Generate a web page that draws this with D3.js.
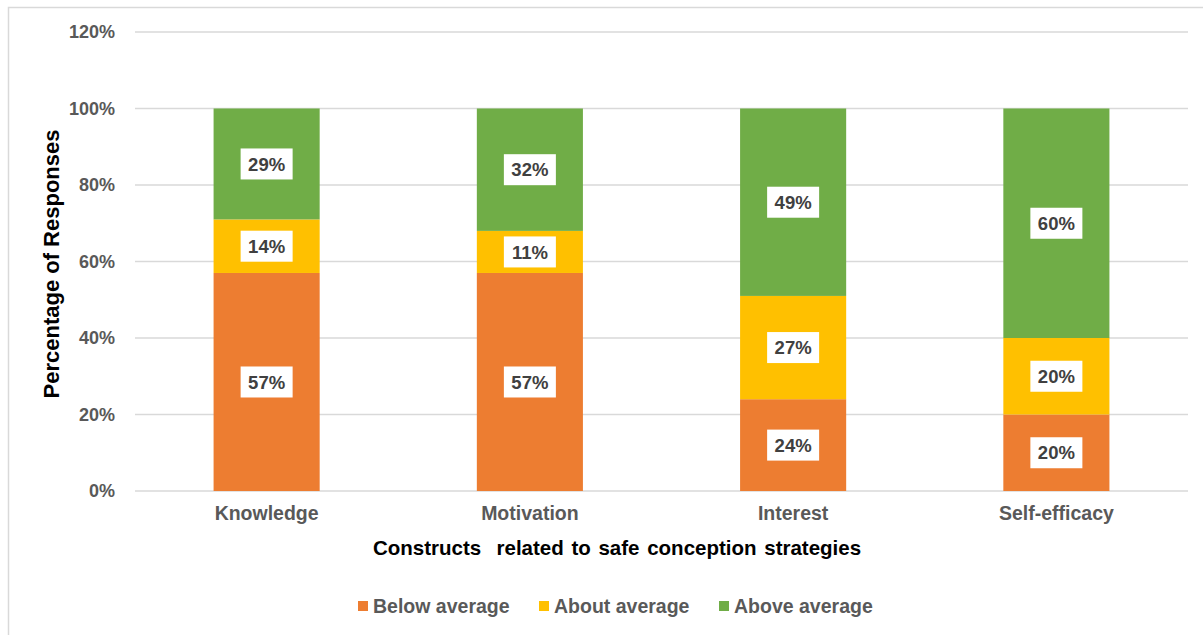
<!DOCTYPE html>
<html>
<head>
<meta charset="utf-8">
<script src="https://cdn.jsdelivr.net/npm/d3@7"></script>
<style>
  body { margin: 0; background: #fff; }
  svg text { font-family: "Liberation Sans", Arial, sans-serif; }
</style>
</head>
<body>
<div id="chart"></div>
<script>
// data
const categories = ["Knowledge", "Motivation", "Interest", "Self-efficacy"];
const seriesNames = ["Below average", "About average", "Above average"];
const belowAverage = [57, 57, 24, 20];
const aboutAverage = [14, 11, 27, 20];
const aboveAverage = [29, 32, 49, 60];
const yTicks = [0, 20, 40, 60, 80, 100, 120];
const colors = ["#ED7D31", "#FFC000", "#70AD47"];

const W = 1203, H = 635;
const margin = { top: 32, right: 15, bottom: 144, left: 135 },
    width = W - margin.left - margin.right,
    height = H - margin.top - margin.bottom;

const svg = d3.select("#chart")
    .append("svg")
    .attr("width", W)
    .attr("height", H);

// outer chart border (clipped on the right/bottom like the picture)
svg.append("rect")
    .attr("x", 8.5).attr("y", 7.5)
    .attr("width", W).attr("height", H)
    .attr("fill", "none")
    .attr("stroke", "#d9d9d9")
    .attr("stroke-width", 1.5);

const g = svg.append("g")
    .attr("transform", `translate(${margin.left}, ${margin.top})`);

const x = d3.scaleBand()
    .domain(categories)
    .range([0, width])
    .paddingInner(0.597)
    .paddingOuter(0.2985);

const y = d3.scaleLinear()
    .domain([0, 120])
    .range([height, 0]);

// gridlines
g.append("g")
    .selectAll("line")
    .data(yTicks)
    .enter()
    .append("line")
    .attr("x1", 0).attr("x2", width)
    .attr("y1", d => y(d)).attr("y2", d => y(d))
    .attr("stroke", "#d9d9d9")
    .attr("stroke-width", 1.3);

// y axis labels
const yAxis = g.append("g")
    .call(d3.axisLeft(y).tickValues(yTicks).tickFormat(d => d + "%").tickSize(0).tickPadding(20));
yAxis.select(".domain").remove();
yAxis.selectAll("text")
    .attr("font-size", 18)
    .attr("font-weight", "bold")
    .attr("fill", "#595959")
    .attr("font-family", "Liberation Sans, Arial, sans-serif");

// x axis labels
const xAxis = g.append("g")
    .attr("transform", `translate(0, ${height})`)
    .call(d3.axisBottom(x).tickSize(0).tickPadding(15));
xAxis.select(".domain").remove();
xAxis.selectAll("text")
    .attr("font-size", 19.5)
    .attr("font-weight", "bold")
    .attr("fill", "#595959")
    .attr("font-family", "Liberation Sans, Arial, sans-serif");

// stack
const table = categories.map((c, i) => ({
    cat: c,
    "Below average": belowAverage[i],
    "About average": aboutAverage[i],
    "Above average": aboveAverage[i]
}));
const stacked = d3.stack().keys(seriesNames)(table);

const layers = g.selectAll(".layer")
    .data(stacked)
    .enter()
    .append("g")
    .attr("fill", (d, i) => colors[i]);

layers.selectAll("rect")
    .data(d => d)
    .enter()
    .append("rect")
    .attr("x", d => x(d.data.cat))
    .attr("y", d => y(d[1]))
    .attr("width", x.bandwidth())
    .attr("height", d => y(d[0]) - y(d[1]));

// data labels with white boxes
const labels = layers.selectAll(".lbl")
    .data(d => d)
    .enter()
    .append("g")
    .attr("transform", d => `translate(${x(d.data.cat) + x.bandwidth() / 2}, ${y((d[0] + d[1]) / 2)})`);

labels.append("rect")
    .attr("x", -26).attr("y", -15.5)
    .attr("width", 52).attr("height", 31)
    .attr("fill", "#fff");

labels.append("text")
    .attr("text-anchor", "middle")
    .attr("dy", "0.36em")
    .attr("font-size", 18.5)
    .attr("font-weight", "bold")
    .attr("fill", "#404040")
    .text(d => (d[1] - d[0]) + "%");

// axis titles
svg.append("text")
    .attr("x", 617)
    .attr("y", 555)
    .attr("text-anchor", "middle")
    .attr("font-size", 20.5)
    .attr("font-weight", "bold")
    .attr("word-spacing", 2)
    .attr("fill", "#000")
    .attr("xml:space", "preserve")
    .text("Constructs  related to safe conception strategies");

svg.append("text")
    .attr("transform", "translate(59, 264) rotate(-90)")
    .attr("text-anchor", "middle")
    .attr("font-size", 22)
    .attr("font-weight", "bold")
    .attr("fill", "#000")
    .text("Percentage of Responses");

// legend
const legendX = [358, 539, 719];
const legend = svg.append("g")
    .selectAll("g")
    .data(seriesNames)
    .enter()
    .append("g")
    .attr("transform", (d, i) => `translate(${legendX[i]}, 606)`);

legend.append("rect")
    .attr("x", 0).attr("y", -5)
    .attr("width", 10).attr("height", 10)
    .attr("fill", (d, i) => colors[i]);

legend.append("text")
    .attr("x", 15)
    .attr("dy", "0.36em")
    .attr("font-size", 19.5)
    .attr("font-weight", "bold")
    .attr("fill", "#595959")
    .text(d => d);
</script>
</body>
</html>
